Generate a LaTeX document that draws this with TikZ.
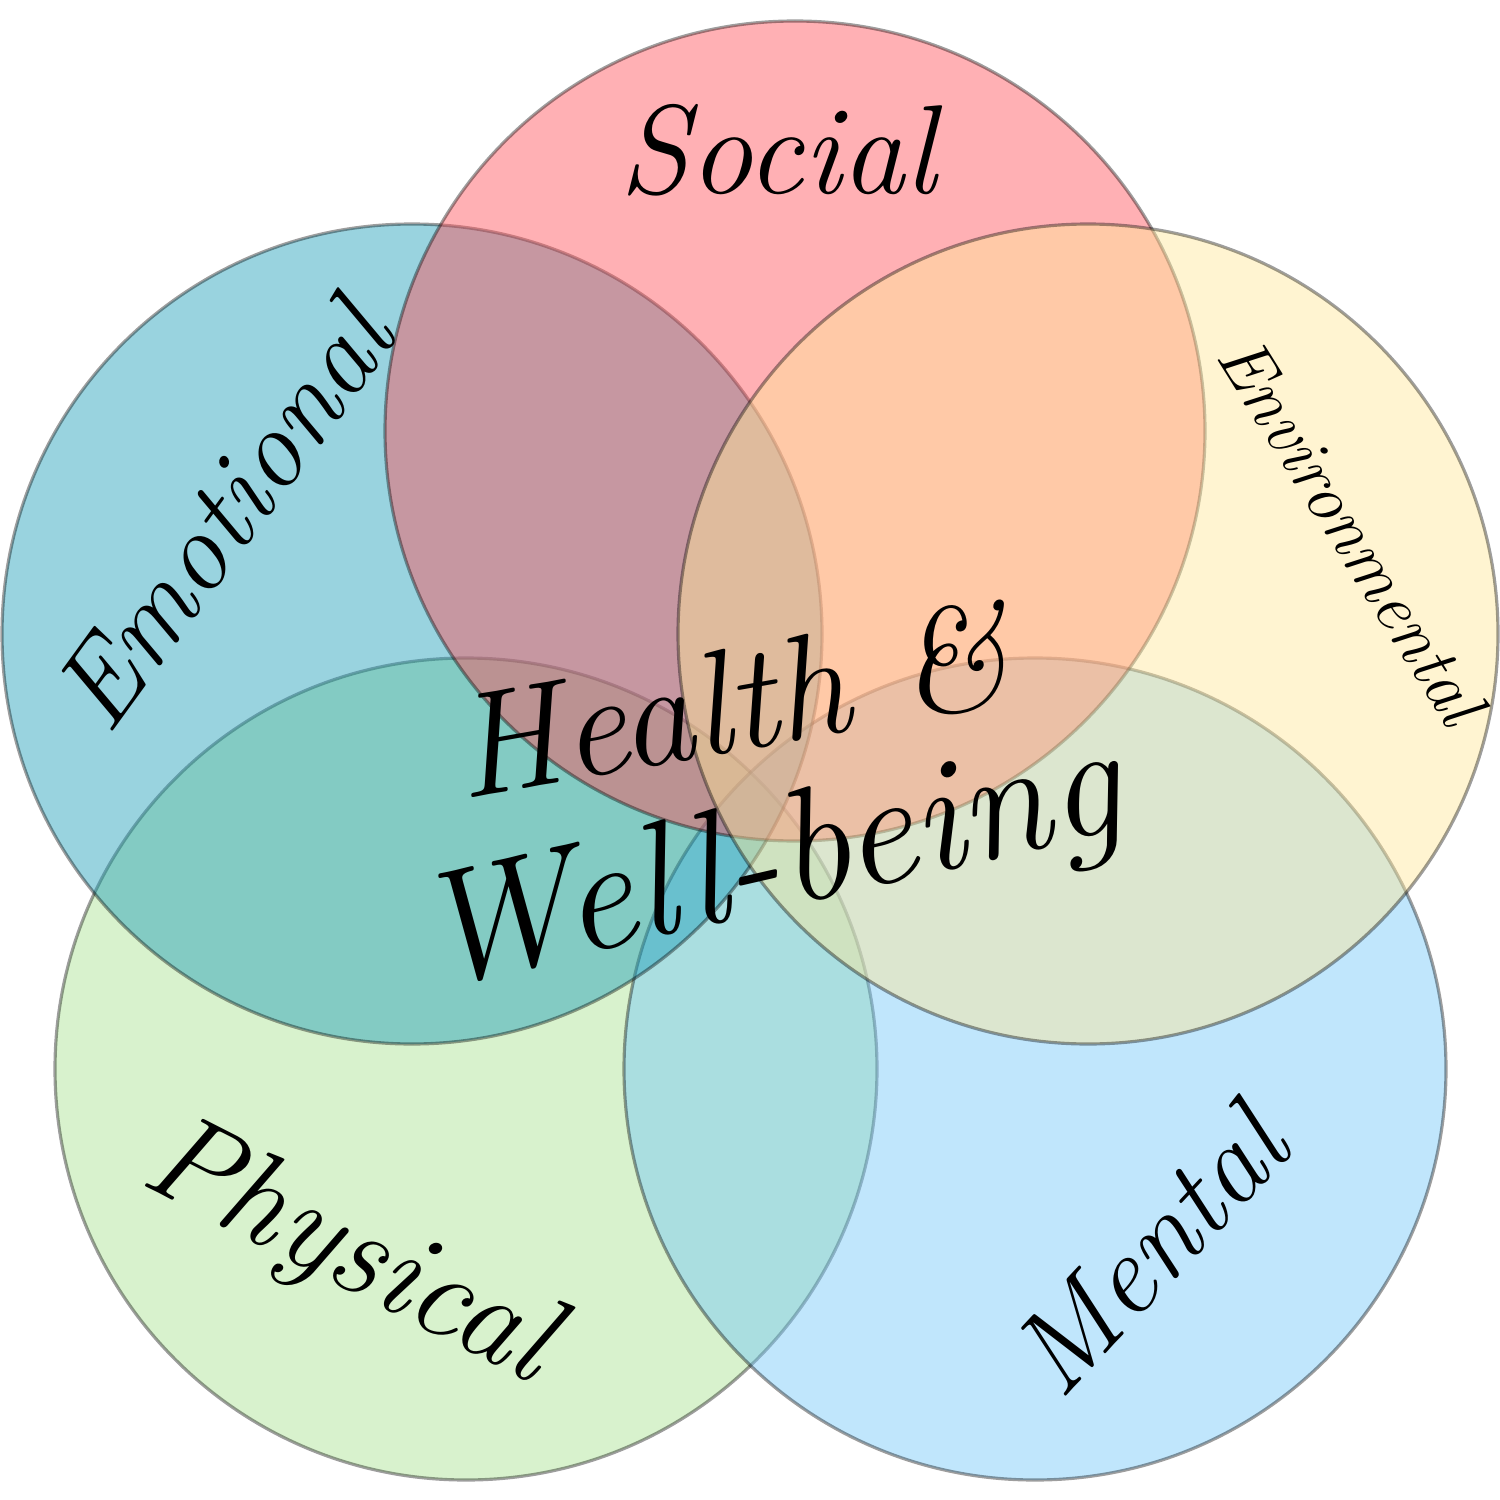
\documentclass[tikz,border=0pt]{standalone}
\definecolor{physc}{RGB}{168,226,144}
\definecolor{mentc}{RGB}{115,199,248}
\definecolor{emotc}{RGB}{28,157,184}
\definecolor{socc}{RGB}{255,79,88}
\definecolor{envc}{RGB}{255,231,153}
\begin{document}
\begin{tikzpicture}[x=.01cm,y=-.01cm,
  ring/.style={draw=black,draw opacity=.38,line width=.9pt,fill opacity=.45},
  word/.style={inner sep=0pt,font=\itshape}]
  \useasboundingbox (0,0) rectangle (1500,1500);
  \coordinate (phys) at (466,1069); \coordinate (ment) at (1035,1069);
  \coordinate (emot) at (412,634); \coordinate (soc) at (795,431);
  \coordinate (env) at (1088,634);
  \filldraw[ring,fill=physc] (phys) circle (411);
  \filldraw[ring,fill=mentc] (ment) circle (411);
  \filldraw[ring,fill=emotc] (emot) circle (410);
  \filldraw[ring,fill=socc] (soc) circle (410);
  \filldraw[ring,fill=envc] (env) circle (410);
  \node[word,font=\itshape\fontsize{36}{40}\selectfont] (socw) at (778,150) {Social};
  \node[word,font=\itshape\fontsize{32}{36}\selectfont,rotate=54] (emotw) at (222,515) {Emotional};
  \node[word,font=\itshape\fontsize{20}{24}\selectfont,rotate=-58] (envw) at (1352,530) {Environmental};
  \node[word,font=\itshape\fontsize{36}{40}\selectfont,rotate=-27] (physw) at (348,1255) {Physical};
  \node[word,font=\itshape\fontsize{33}{36}\selectfont,rotate=47] (mentw) at (1148,1250) {Mental};
  \node[word,font=\itshape\fontsize{42}{46}\selectfont,rotate=10] (hlth) at (730,700) {Health \&};
  \node[word,font=\itshape\fontsize{46}{50}\selectfont,rotate=13] (well) at (770,870) {Well-being};
\end{tikzpicture}
\end{document}
